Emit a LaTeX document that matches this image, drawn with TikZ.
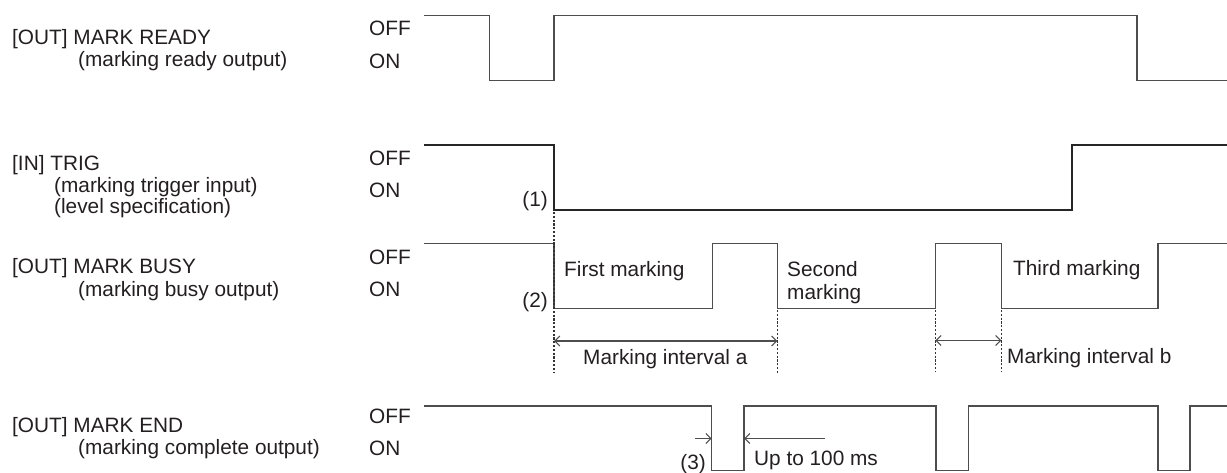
\documentclass[tikz,border=0pt]{standalone}
\usepackage{fontspec}
\setmainfont{Liberation Sans}
\usetikzlibrary{arrows.meta}
\definecolor{txt}{HTML}{231F20}
\definecolor{wave}{HTML}{4D4D4D}
\begin{document}
\begin{tikzpicture}[x=1pt,y=-1pt,
  lbl/.style={anchor=base west,inner sep=0pt,text=txt,align=left,font=\fontsize{20.8}{23}\selectfont},
  lble/.style={lbl,anchor=base east},
  wv/.style={draw=wave,line width=1.3pt,line join=miter},
  trigline/.style={draw=black!85,line width=2.3pt,line join=miter},
  guide/.style={draw=black!80,line width=1.2pt,dash pattern=on 2.2pt off 1.6pt},
  barb/.tip={Straight Barb[length=5pt,width=10pt]},
  dim/.style={draw=wave,line width=1.1pt,barb-barb},
  half/.style={draw=wave,line width=1.1pt,-barb}]
\useasboundingbox (0,0) rectangle (1227,473);

% left labels
\node[lbl] (rdy)    at (12,45)  {[OUT] MARK READY};
\node[lbl] (rdyd)   at (78,67)  {(marking ready output)};
\node[lbl] (rdyoff) at (369,36) {OFF};
\node[lbl] (rdyon)  at (369,69) {ON};

\node[lbl] (trg)    at (12,171)  {[IN] TRIG};
\node[lbl] (trgd)   at (54,193)  {(marking trigger input)};
\node[lbl] (trgl)   at (54,214)  {(level specification)};
\node[lbl] (trgoff) at (369,166) {OFF};
\node[lbl] (trgon)  at (369,198) {ON};

\node[lbl] (bsy)    at (12,273)  {[OUT] MARK BUSY};
\node[lbl] (bsyd)   at (78,297)  {(marking busy output)};
\node[lbl] (bsyoff) at (369,265) {OFF};
\node[lbl] (bsyon)  at (369,297) {ON};

\node[lbl] (end)    at (12,432)  {[OUT] MARK END};
\node[lbl] (endd)   at (78,454)  {(marking complete output)};
\node[lbl] (endoff) at (369,423) {OFF};
\node[lbl] (endon)  at (369,455) {ON};

% waveforms
\draw[wv] (424,15.7) -- (489.3,15.7) -- (489.3,80.7) -- (554,80.7) -- (554,15.7)
  -- (1137,15.7) -- (1137,80.7) -- (1228,80.7);
\draw[trigline] (424,145.3) -- (554,145.3) -- (554,210.3) -- (1072.3,210.3)
  -- (1072.3,145.3) -- (1228,145.3);
\draw[wv] (424,243.7) -- (554,243.7) -- (554,308.7) -- (712.3,308.7) -- (712.3,243.7)
  -- (777.3,243.7) -- (777.3,308.7) -- (935.3,308.7) -- (935.3,243.7) -- (1001.3,243.7)
  -- (1001.3,308.7) -- (1158,308.7) -- (1158,243.7) -- (1228,243.7);
\draw[wv] (424,406) -- (711.7,406) -- (711.7,470.7) -- (744,470.7) -- (744,406)
  -- (936,406) -- (936,470.7) -- (968.7,470.7) -- (968.7,406) -- (1158,406)
  -- (1158,470.7) -- (1190,470.7) -- (1190,406) -- (1228,406);

% guides
\coordinate (g1t) at (554,212);   \coordinate (g1b) at (554,373);
\coordinate (g2t) at (777.3,310); \coordinate (g2b) at (777.3,373);
\coordinate (g3t) at (935.3,310); \coordinate (g3b) at (935.3,372);
\coordinate (g4t) at (1001.3,310);\coordinate (g4b) at (1001.3,372);
\draw[guide] (g1t) -- (g1b);
\draw[guide] (g2t) -- (g2b);
\draw[guide] (g3t) -- (g3b);
\draw[guide] (g4t) -- (g4b);

% dimension arrows
\coordinate (a1) at (554,341);   \coordinate (a2) at (777.3,341);
\coordinate (b1) at (935.3,340.5); \coordinate (b2) at (1001.3,340.5);
\draw[dim] (a1) -- (a2);
\draw[dim] (b1) -- (b2);
\coordinate (u0) at (695,438.5); \coordinate (u1) at (711.7,438.5);
\coordinate (u2) at (744,438.5); \coordinate (u3) at (825,438.5);
\draw[half] (u0) -- (u1);
\draw[half] (u3) -- (u2);

% annotations
\node[lble] (n1) at (548,207) {(1)};
\node[lble] (n2) at (548,308) {(2)};
\node[lble] (n3) at (706,469) {(3)};
\node[lbl] (first)  at (564,277) {First marking};
\node[lbl] (second) at (787,300) {Second\\marking};
\node[lbl] (third)  at (1013,276) {Third marking};
\node[lbl] (ia) at (583,364) {Marking interval a};
\node[lbl] (ib) at (1007,363) {Marking interval b};
\node[lbl] (up) at (754,465) {Up to 100 ms};
\end{tikzpicture}
\end{document}
